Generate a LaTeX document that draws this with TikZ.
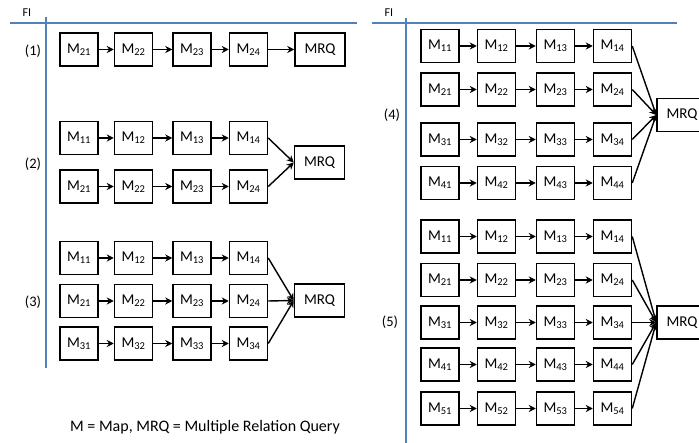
\documentclass[tikz,border=0pt]{standalone}
\usepackage{fontspec}
\setmainfont{Carlito}
\usetikzlibrary{arrows.meta}
\definecolor{fiblue}{RGB}{79,129,189}
\tikzset{
  mapbox/.style={draw,line width=1.5pt,minimum width=38pt,minimum height=33pt,inner sep=0pt,font=\fontsize{15}{15}\selectfont},
  mrqbox/.style={mapbox,minimum width=50pt},
  flow/.style={-{Stealth[length=7pt,width=7pt]},line width=1.4pt},
  fiaxis/.style={fiblue,line width=2pt},
  caselabel/.style={font=\fontsize{14.5}{14.5}\selectfont},
}
\begin{document}
\begin{tikzpicture}[x=1pt,y=-1pt]
    \useasboundingbox (0,0) rectangle (699,443);
    \clip (0,0) rectangle (699,443);
    % axes
    \coordinate (lh0) at (10,23);  \coordinate (lh1) at (357,23);
    \coordinate (lv0) at (46,17);  \coordinate (lv1) at (46,368);
    \coordinate (rh0) at (372,23); \coordinate (rh1) at (677,23);
    \coordinate (rv0) at (406,18); \coordinate (rv1) at (406,443);
    \draw[fiaxis] (lh0) -- (lh1);
    \draw[fiaxis] (lv0) -- (lv1);
    \draw[fiaxis] (rh0) -- (rh1);
    \draw[fiaxis] (rv0) -- (rv1);
    \node[font=\fontsize{12}{12}\selectfont] (fil) at (27,13) {FI};
    \node[font=\fontsize{12}{12}\selectfont] (fir) at (389,13) {FI};
    % (1)
    \node[caselabel] (c1) at (33,51) {(1)};
    \foreach \c/\x in {1/79,2/133.5,3/192,4/248.5}
      \node[mapbox] (b1-2\c) at (\x,49.5) {M\textsubscript{2\c}};
    \foreach \c/\n in {1/2,2/3,3/4}
      \draw[flow] (b1-2\c) -- (b1-2\n);
    \node[mrqbox] (q1) at (320,49.5) {MRQ};
    \draw[flow] (b1-24) -- (q1);
    % (2)
    \node[caselabel] (c2) at (33,164) {(2)};
    \foreach \r/\y in {1/138,2/186.5}{
      \foreach \c/\x in {1/79,2/133.5,3/192,4/248.5}
        \node[mapbox] (b2-\r\c) at (\x,\y) {M\textsubscript{\r\c}};
      \foreach \c/\n in {1/2,2/3,3/4}
        \draw[flow] (b2-\r\c) -- (b2-\r\n);
    }
    \node[mrqbox] (q2) at (319.5,162.5) {MRQ};
    \foreach \r in {1,2}
      \draw[flow] (b2-\r4.east) -- (q2.west);
    % (3)
    \node[caselabel] (c3) at (33,302) {(3)};
    \foreach \r/\y in {1/258,2/301,3/343.5}{
      \foreach \c/\x in {1/79,2/133.5,3/192,4/248.5}
        \node[mapbox] (b3-\r\c) at (\x,\y) {M\textsubscript{\r\c}};
      \foreach \c/\n in {1/2,2/3,3/4}
        \draw[flow] (b3-\r\c) -- (b3-\r\n);
    }
    \node[mrqbox] (q3) at (319.5,300.5) {MRQ};
    \foreach \r in {1,2,3}
      \draw[flow] (b3-\r4.east) -- (q3.west);
    % (4)
    \node[caselabel] (c4) at (392,115) {(4)};
    \foreach \r/\y in {1/46,2/89.5,3/139.5,4/183}{
      \foreach \c/\x in {1/440,2/496.5,3/555.5,4/612.5}
        \node[mapbox] (b4-\r\c) at (\x,\y) {M\textsubscript{\r\c}};
      \foreach \c/\n in {1/2,2/3,3/4}
        \draw[flow] (b4-\r\c) -- (b4-\r\n);
    }
    \node[mrqbox] (q4) at (682,115) {MRQ};
    \foreach \r in {1,...,4}
      \draw[flow] (b4-\r4.east) -- (q4.west);
    % (5)
    \node[caselabel] (c5) at (390,322) {(5)};
    \foreach \r/\y in {1/236.5,2/280,3/322.5,4/364.5,5/408.5}{
      \foreach \c/\x in {1/440,2/496.5,3/555.5,4/612.5}
        \node[mapbox] (b5-\r\c) at (\x,\y) {M\textsubscript{\r\c}};
      \foreach \c/\n in {1/2,2/3,3/4}
        \draw[flow] (b5-\r\c) -- (b5-\r\n);
    }
    \node[mrqbox] (q5) at (682,322.5) {MRQ};
    \foreach \r in {1,...,5}
      \draw[flow] (b5-\r4.east) -- (q5.west);
    % legend
    \node[font=\fontsize{16}{16}\selectfont] (key) at (205,427) {M = Map, MRQ = Multiple Relation Query};
  \end{tikzpicture}
\end{document}
